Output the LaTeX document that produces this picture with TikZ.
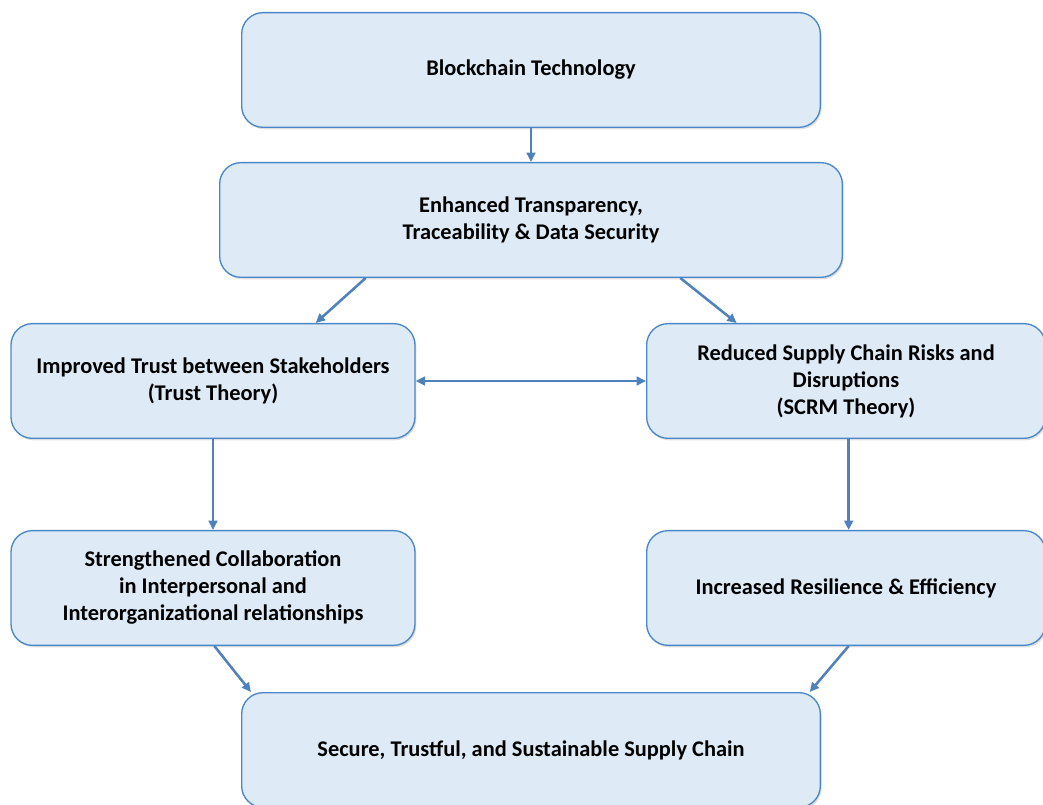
\documentclass[tikz,border=0pt]{standalone}
\usepackage{fontspec}
\setmainfont{Carlito}
\usetikzlibrary{arrows.meta,positioning,shadows}
\definecolor{bfill}{HTML}{DEEBF7}
\definecolor{bline}{HTML}{4A86C8}
\definecolor{barrow}{HTML}{4F81BD}
\tikzset{
  stage/.style = {draw=bline, line width=1pt, fill=bfill, rounded corners=16pt,
                  minimum height=86pt, align=center, text=black,
                  font=\bfseries\fontsize{16.8}{20.25}\selectfont,
                  drop shadow={opacity=0.25, shadow xshift=1pt, shadow yshift=-1.5pt}},
  link/.style  = {-{Triangle[length=7pt,width=6.5pt]}, line width=1.9pt, draw=barrow},
  both/.style  = {link, {Triangle[length=7pt,width=6.5pt]}-{Triangle[length=7pt,width=6.5pt]}},
}

\begin{document}
\begin{tikzpicture}[x=0.75pt, y=-0.75pt]
\useasboundingbox (0,0) rectangle (1043,805);
% ---- the chain of stages ----
\node[stage, minimum width=434pt] (tech)   at (531,70)  {Blockchain Technology};
\node[stage, minimum width=467pt] (transp) at (531,220) {Enhanced Transparency,\\ Traceability \& Data Security};
\node[stage, minimum width=303pt] (trust)  at (213,381) {Improved Trust between Stakeholders\\ (Trust Theory)};
\node[stage, minimum width=299pt] (risk)   at (846,381) {Reduced Supply Chain Risks and\\ Disruptions\\ (SCRM Theory)};
\node[stage, minimum width=303pt] (collab) at (213,588) {Strengthened Collaboration\\ in Interpersonal and\\ Interorganizational relationships};
\node[stage, minimum width=299pt] (resil)  at (846,588) {Increased Resilience \& Efficiency};
\node[stage, minimum width=434pt] (chain)  at (531,750) {Secure, Trustful, and Sustainable Supply Chain};
% ---- connectors ----
\draw[link] (tech.south) -- (transp.north);
\draw[link] ([xshift=-124pt]transp.south) -- ([xshift=77pt]trust.north);
\draw[link] ([xshift=112pt]transp.south) -- ([xshift=-82pt]risk.north);
\draw[both] (trust.east) -- (risk.west);
\draw[link] (trust.south) -- (collab.north);
\draw[link] ([xshift=2pt]risk.south) -- ([xshift=2pt]resil.north);
\draw[link] ([xshift=1pt]collab.south) -- ([xshift=-210pt]chain.north);
\draw[link] ([xshift=2pt]resil.south) -- ([xshift=209pt]chain.north);
\end{tikzpicture}
\end{document}
